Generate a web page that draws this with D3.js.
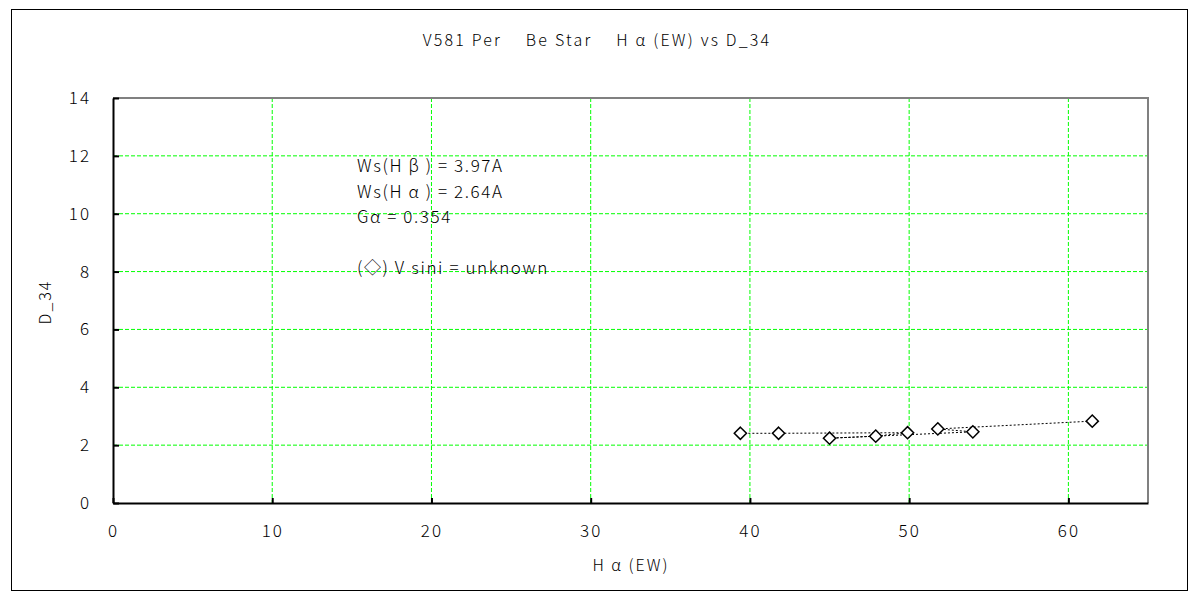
<!DOCTYPE html>
<html>
<head>
<meta charset="utf-8">
<script src="https://cdn.jsdelivr.net/npm/d3@7"></script>
<style>
  body { margin: 0; background: #fff; }
  svg text { font-family: "Noto Sans CJK JP", "DejaVu Sans", sans-serif; font-weight: 300; fill: #000; letter-spacing: 1.6px; }
</style>
</head>
<body>
<div class="chart"></div>
<script>
// Hα(EW) vs D_34 , order as plotted (line follows this order)
const ewValues = [39.4, 41.8, 49.9, 47.9, 45.0, 54.0, 51.8, 61.5];
const d34Values = [2.41, 2.41, 2.43, 2.31, 2.24, 2.46, 2.56, 2.83];
const xTicks = [0, 10, 20, 30, 40, 50, 60];
const yTicks = [0, 2, 4, 6, 8, 10, 12, 14];
const notes = ["Ws(H β ) = 3.97A", "Ws(H α ) = 2.64A", "Gα = 0.354", "", "(◇) V sini = unknown"];

const data = ewValues.map((d, i) => ({ew: d, d34: d34Values[i]}));

const svg_width = 1200, svg_height = 600;
const margin = {top: 98, right: 52, bottom: 97, left: 113};
const width = svg_width - margin.left - margin.right;
const height = svg_height - margin.top - margin.bottom;

const svg = d3.select('.chart').append('svg')
  .attr('width', svg_width).attr('height', svg_height);

// outer frame
svg.append('rect').attr('x', 11.5).attr('y', 9.5).attr('width', 1176).attr('height', 581)
  .attr('fill', 'none').attr('stroke', '#000').attr('stroke-width', 1);

svg.append('text').attr('x', 597).attr('y', 46).attr('text-anchor', 'middle')
  .style('font-size', '16px').style('letter-spacing', '2.2px')
  .text('V581 Per　 Be Star　 H α (EW) vs D_34');

const g = svg.append('g').attr('transform', `translate(${margin.left},${margin.top})`);

const xScale = d3.scaleLinear().domain([0, 65]).range([0, width]);
const yScale = d3.scaleLinear().domain([0, 14]).range([height, 0]);

// grid
g.append('g').selectAll('line').data(xTicks.filter(d => d > 0)).join('line')
  .attr('x1', d => xScale(d)).attr('x2', d => xScale(d))
  .attr('y1', 0).attr('y2', height)
  .attr('stroke', '#00ff00').attr('stroke-dasharray', '4,2');
g.append('g').selectAll('line').data(yTicks.filter(d => d > 0 && d < 14)).join('line')
  .attr('x1', 0).attr('x2', width)
  .attr('y1', d => yScale(d)).attr('y2', d => yScale(d))
  .attr('stroke', '#00ff00').attr('stroke-dasharray', '4,2');

// plot frame: top/right gray
g.append('path').attr('d', `M0,0H${width}V${height}`)
  .attr('fill', 'none').attr('stroke', '#808080').attr('stroke-width', 2);

const xAxis = d3.axisBottom(xScale).tickValues(xTicks).tickSizeInner(-5).tickSizeOuter(0).tickPadding(22);
const yAxis = d3.axisLeft(yScale).tickValues(yTicks).tickSizeInner(-6).tickSizeOuter(0).tickPadding(22);

const xAxisDraw = g.append('g').attr('transform', `translate(0,${height})`).call(xAxis);
const yAxisDraw = g.append('g').call(yAxis);
[xAxisDraw, yAxisDraw].forEach(a => {
  a.select('.domain').attr('stroke', '#000').attr('stroke-width', 2);
  a.selectAll('.tick line').attr('stroke', '#000').attr('stroke-width', 2);
  a.selectAll('text').style('font-size', '17px').style('font-family', null).style('letter-spacing', '2px');
});

// line + markers
const line = d3.line().x(d => xScale(d.ew)).y(d => yScale(d.d34));
g.append('path').datum(data).attr('d', line)
  .attr('fill', 'none').attr('stroke', '#000').attr('stroke-width', 1).attr('stroke-dasharray', '2,2');

const diamond = d3.symbol().type(d3.symbolDiamond2).size(95);
g.append('g').selectAll('path').data(data).join('path')
  .attr('transform', d => `translate(${xScale(d.ew)},${yScale(d.d34)})`)
  .attr('d', diamond)
  .attr('fill', '#fff').attr('stroke', '#000').attr('stroke-width', 1.5);

// notes
g.append('g').selectAll('text').data(notes).join('text')
  .attr('x', 357 - margin.left).attr('y', (d, i) => 172 - margin.top + i * 25.5)
  .style('font-size', '17px').style('letter-spacing', '1.6px').text(d => d);

// axis labels
svg.append('text').attr('x', 631).attr('y', 571).attr('text-anchor', 'middle')
  .style('font-size', '16px').style('letter-spacing', '2px').text('H α (EW)');
svg.append('text').attr('transform', 'translate(51,302) rotate(-90)').attr('text-anchor', 'middle')
  .style('font-size', '16px').style('letter-spacing', '2px').text('D_34');
</script>
</body>
</html>
